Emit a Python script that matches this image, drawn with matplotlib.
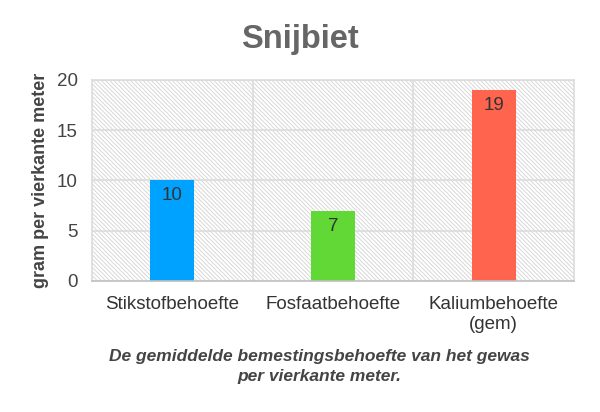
import numpy as np
import matplotlib.pyplot as plt
from matplotlib.patches import Rectangle

categories = ['Stikstofbehoefte', 'Fosfaatbehoefte', 'Kaliumbehoefte\n(gem)']
values = [10, 7, 19]
colors = ['#00a2ff', '#61d836', '#ff644e']
yticks = [0, 5, 10, 15, 20]

plt.rcParams['font.family'] = ['Liberation Sans', 'DejaVu Sans']
plt.rcParams['hatch.linewidth'] = 0.7
plt.rcParams['hatch.color'] = '#d8d8d8'

fig = plt.figure(figsize=(6, 4.12), dpi=100)
ax = fig.add_axes([0.153, 0.318, 0.804, 0.488])

x = np.arange(len(categories))
ax.set_xlim(-0.5, len(categories) - 0.5)
ax.set_ylim(0, 20)

# hatched background
bg = Rectangle((0, 0), 1, 1, transform=ax.transAxes, facecolor='white',
               edgecolor='#d8d8d8', hatch='\\' * 8, linewidth=0, zorder=0)
ax.add_patch(bg)

for y in yticks[1:]:
    ax.axhline(y, color='#dcdcdc', lw=1.2, zorder=1)
for b in [0.5, 1.5]:
    ax.axvline(b, color='#dcdcdc', lw=1.2, zorder=1)

bars = ax.bar(x, values, width=0.27, color=colors, zorder=2)
for xi, v in zip(x, values):
    ax.text(xi, v - 0.7, str(v), ha='center', va='top', fontsize=13.5,
            color='#333333', zorder=3)

for s in ax.spines.values():
    s.set_color('#dcdcdc')
    s.set_linewidth(1.2)
ax.spines['bottom'].set_color('#bfbfbf')

ax.set_yticks(yticks)
ax.set_xticks(x)
ax.set_xticklabels(categories, fontsize=13.5, color='#333333', linespacing=1.2)
ax.tick_params(axis='y', labelsize=13.5, labelcolor='#444444', length=0, pad=10)
ax.tick_params(axis='x', length=0, pad=11)
ax.set_ylabel('gram per vierkante meter', fontsize=13, fontweight='bold',
              color='#444444', labelpad=6)

fig.text(0.5, 0.905, 'Snijbiet', ha='center', va='center', fontsize=23.5,
         fontweight='bold', color='#666666')
fig.text(0.533, 0.11, 'De gemiddelde bemestingsbehoefte van het gewas\nper vierkante meter.',
         ha='center', va='center', fontsize=12.5, fontweight='bold', style='italic',
         color='#444444', linespacing=1.4)

fig.savefig('out.png', dpi=100)
